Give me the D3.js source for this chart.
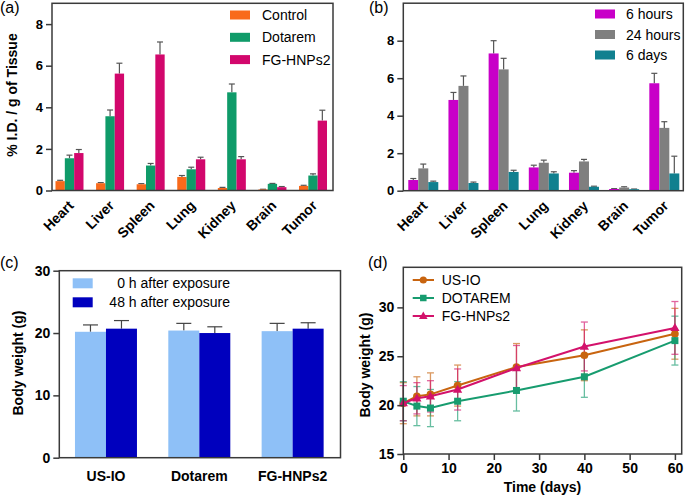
<!DOCTYPE html>
<html>
<head>
<meta charset="utf-8">
<script src="https://cdn.jsdelivr.net/npm/d3@7"></script>
<style>
  body { margin: 0; background: #fff; }
  text { font-family: Arial, "Liberation Sans", sans-serif; fill: #000; }
</style>
</head>
<body>
<svg id="fig" width="685" height="503"></svg>
<script>
// ---- data ----
var organs = ["Heart", "Liver", "Spleen", "Lung", "Kidney", "Brain", "Tumor"];

// (a) biodistribution per agent
var seriesA = ["Control", "Dotarem", "FG-HNPs2"];
var controlA = [0.45, 0.35, 0.30, 0.65, 0.12, 0.05, 0.22];
var controlErrA = [0.04, 0.03, 0.03, 0.07, 0.03, 0.01, 0.03];
var dotaremA = [1.55, 3.57, 1.20, 1.02, 4.72, 0.32, 0.72];
var dotaremErrA = [0.15, 0.30, 0.10, 0.10, 0.40, 0.02, 0.08];
var fgA = [1.80, 5.62, 6.54, 1.50, 1.50, 0.16, 3.36];
var fgErrA = [0.17, 0.50, 0.60, 0.10, 0.13, 0.03, 0.50];
var ticksA = [0, 2, 4, 6, 8];

// (b) FG-HNPs2 over time
var seriesB = ["6 hours", "24 hours", "6 days"];
var h6B = [0.57, 4.84, 7.32, 1.24, 0.96, 0.09, 5.73];
var h6ErrB = [0.08, 0.40, 0.68, 0.12, 0.11, 0.02, 0.53];
var h24B = [1.19, 5.59, 6.47, 1.49, 1.56, 0.17, 3.35];
var h24ErrB = [0.23, 0.53, 0.59, 0.14, 0.11, 0.04, 0.33];
var d6B = [0.46, 0.41, 1.00, 0.92, 0.21, 0.08, 0.92];
var d6ErrB = [0.05, 0.05, 0.09, 0.09, 0.03, 0.01, 0.92];
var ticksB = [0, 2, 4, 6, 8];

// (c) body weight before / after exposure
var agentsC = ["US-IO", "Dotarem", "FG-HNPs2"];
var seriesC = ["0 h after exposure", "48 h after exposure"];
var h0C = [20.2, 20.4, 20.3];
var h0ErrC = [1.1, 1.15, 1.25];
var h48C = [20.7, 20.0, 20.7];
var h48ErrC = [1.3, 1.0, 0.95];
var ticksC = [0, 10, 20, 30];

// (d) body weight over time
var daysD = [0, 3, 6, 12, 25, 40, 60];
var seriesD = ["US-IO", "DOTAREM", "FG-HNPs2"];
var usioD = [20.2, 20.9, 21.1, 22.0, 23.9, 25.1, 27.3];
var usioErrD = [2.1, 2.0, 2.2, 2.1, 2.4, 2.6, 2.6];
var dotaremD = [20.4, 19.9, 19.7, 20.4, 21.5, 22.9, 26.6];
var dotaremErrD = [2.0, 2.0, 1.9, 2.0, 2.1, 2.1, 2.5];
var fgD = [20.2, 20.7, 20.9, 21.6, 23.8, 26.0, 27.9];
var fgErrD = [1.8, 1.6, 1.6, 2.1, 2.3, 2.5, 2.7];
var xTicksD = [0, 10, 20, 30, 40, 50, 60];
var yTicksD = [15, 20, 25, 30];

// ---- styles ----
var FRAME = "#3a3a3a";
var ERR = "#555";

var svg = d3.select("#fig");

function frame(g, l, t, r, b) {
  g.append("rect").attr("x", l).attr("y", t).attr("width", r - l).attr("height", b - t)
    .attr("fill", "none").attr("stroke", FRAME).attr("stroke-width", 1.5);
}

function yAxis(g, y, left, ticks, fs) {
  var ax = g.append("g").attr("transform", "translate(" + left + ",0)")
    .call(d3.axisLeft(y).tickValues(ticks).tickSize(6).tickPadding(3));
  ax.select(".domain").remove();
  ax.selectAll("line").attr("stroke", FRAME).attr("stroke-width", 1.5);
  ax.selectAll("text").attr("font-size", fs).attr("font-weight", "bold")
    .attr("font-family", "Arial, 'Liberation Sans', sans-serif").attr("fill", "#000");
}

function panelLabel(txt, x, y) {
  svg.append("text").attr("x", x).attr("y", y).attr("font-size", 16).text(txt);
}

function yTitle(txt, x, y) {
  svg.append("text").attr("transform", "translate(" + x + "," + y + ") rotate(-90)")
    .attr("text-anchor", "middle").attr("font-size", 14).attr("font-weight", "bold").text(txt);
}

// grouped bars with upward error bars
function barPanel(o) {
  var g = svg.append("g");
  var x = d3.scaleBand().domain(o.cats).range(o.xRange);
  var xs = d3.scaleBand().domain(o.series).range([-o.groupW / 2, o.groupW / 2]);
  var y = d3.scaleLinear().domain(o.yDomain).range([o.bottom, o.top]);

  o.values.forEach(function(vals, si) {
    var rows = vals.map(function(v, i) {
      return { cat: o.cats[i], v: v, e: o.errs[si][i] };
    });
    var cx = function(d) { return x(d.cat) + x.bandwidth() / 2 + xs(o.series[si]) + xs.bandwidth() / 2; };
    var eg = g.append("g").attr("stroke", o.errColor).attr("stroke-width", 1.2);
    eg.selectAll("line.v").data(rows).enter().append("line")
      .attr("x1", cx).attr("x2", cx)
      .attr("y1", function(d) { return y(d.v); })
      .attr("y2", function(d) { return y(d.v + d.e); });
    eg.selectAll("line.c").data(rows).enter().append("line")
      .attr("x1", function(d) { return cx(d) - o.capW / 2; })
      .attr("x2", function(d) { return cx(d) + o.capW / 2; })
      .attr("y1", function(d) { return y(d.v + d.e); })
      .attr("y2", function(d) { return y(d.v + d.e); });
    g.selectAll(null).data(rows).enter().append("rect")
      .attr("x", function(d) { return cx(d) - xs.bandwidth() / 2; })
      .attr("width", xs.bandwidth())
      .attr("y", function(d) { return y(d.v); })
      .attr("height", function(d) { return y(o.yDomain[0]) - y(d.v); })
      .attr("fill", o.colors[si]);
  });

  frame(g, o.left, o.top, o.right, o.bottom);
  yAxis(g, y, o.left, o.ticks, o.tickFs);

  // category labels
  if (o.rotate) {
    g.selectAll(null).data(o.cats).enter().append("text")
      .attr("transform", function(d) {
        return "translate(" + (x(d) + x.bandwidth() / 2 + 5) + "," + (o.bottom + 16) + ") rotate(-45)";
      })
      .attr("text-anchor", "end").attr("font-size", 14).attr("font-weight", "bold")
      .text(function(d) { return d; });
  } else {
    g.selectAll(null).data(o.cats).enter().append("text")
      .attr("x", function(d) { return x(d) + x.bandwidth() / 2; })
      .attr("y", o.bottom + 23)
      .attr("text-anchor", "middle").attr("font-size", 14).attr("font-weight", "bold")
      .text(function(d) { return d; });
  }
  return g;
}

// ---- (a) ----
var colorsA = ["#F96A1B", "#0F9B69", "#D2076C"];
barPanel({
  cats: organs, series: seriesA, values: [controlA, dotaremA, fgA], errs: [controlErrA, dotaremErrA, fgErrA],
  colors: colorsA, xRange: [49.2, 333.3], groupW: 28, capW: 6, errColor: ERR,
  yDomain: [0, 9], left: 52, right: 333, top: 3.3, bottom: 190.5, ticks: ticksA, tickFs: 13, rotate: true
});
panelLabel("(a)", 0, 13);
yTitle("% I.D. / g of Tissue", 17, 95);
var legA = svg.append("g");
seriesA.forEach(function(s, i) {
  var cy = 15 + i * 22.3;
  legA.append("rect").attr("x", 230).attr("y", cy - 4.5).attr("width", 20).attr("height", 9).attr("fill", colorsA[i]);
  legA.append("text").attr("x", 262).attr("y", cy + 5).attr("font-size", 14).text(s);
});

// ---- (b) ----
var colorsB = ["#C800C8", "#7F7F7F", "#10808F"];
barPanel({
  cats: organs, series: seriesB, values: [h6B, h24B, d6B], errs: [h6ErrB, h24ErrB, d6ErrB],
  colors: colorsB, xRange: [403.2, 684.4], groupW: 30, capW: 6, errColor: ERR,
  yDomain: [0, 10], left: 403.3, right: 683.3, top: 3.2, bottom: 190.7, ticks: ticksB, tickFs: 13, rotate: true
});
panelLabel("(b)", 369, 13);
var legB = svg.append("g");
seriesB.forEach(function(s, i) {
  var cy = 14 + i * 20.5;
  legB.append("rect").attr("x", 595).attr("y", cy - 4.5).attr("width", 20).attr("height", 9).attr("fill", colorsB[i]);
  legB.append("text").attr("x", 626).attr("y", cy + 5).attr("font-size", 14).text(s);
});

// ---- (c) ----
var colorsC = ["#8EC0F7", "#0000BE"];
barPanel({
  cats: agentsC, series: seriesC, values: [h0C, h48C], errs: [h0ErrC, h48ErrC],
  colors: colorsC, xRange: [59.3, 339.3], groupW: 62, capW: 15, errColor: "#444",
  yDomain: [0, 30], left: 59.3, right: 340.5, top: 270.7, bottom: 457.7, ticks: ticksC, tickFs: 14, rotate: false
});
panelLabel("(c)", 0, 268);
yTitle("Body weight (g)", 23, 363);
var legC = svg.append("g");
seriesC.forEach(function(s, i) {
  var cy = 283.3 + i * 19;
  legC.append("rect").attr("x", 72.7).attr("y", cy - 5).attr("width", 20).attr("height", 10).attr("fill", colorsC[i]);
  legC.append("text").attr("x", 230).attr("y", cy + 5).attr("text-anchor", "end").attr("font-size", 14).text(s);
});

// ---- (d) ----
var colorsD = ["#C8640F", "#179C6F", "#D3126B"];
var dataD = [usioD, dotaremD, fgD];
var errD = [usioErrD, dotaremErrD, fgErrD];
var dl = 403.3, dr = 681.7, dt = 267.3, db = 454;
var xD = d3.scaleLinear().domain([0, 61.5]).range([dl, dr]);
var yD = d3.scaleLinear().domain([15, 34.1]).range([db, dt]);
var gD = svg.append("g");

function marker(sel, k, cx, cy, s) {
  if (k === 0) {
    sel.append("circle").attr("cx", cx).attr("cy", cy).attr("r", s * 0.55);
  } else if (k === 1) {
    sel.append("rect").attr("x", cx - s / 2).attr("y", cy - s / 2).attr("width", s).attr("height", s);
  } else {
    sel.append("path").attr("d", d3.symbol(d3.symbolTriangle, s * s * 0.75)())
      .attr("transform", "translate(" + cx + "," + (cy + 0.5) + ")");
  }
}

dataD.forEach(function(vals, si) {
  var rows = vals.map(function(v, i) { return { t: daysD[i], v: v, e: errD[si][i] }; });
  var eg = gD.append("g").attr("stroke", colorsD[si]).attr("stroke-width", 1.3).attr("opacity", 0.65);
  rows.forEach(function(d) {
    var cx = xD(d.t);
    eg.append("line").attr("x1", cx).attr("x2", cx).attr("y1", yD(d.v - d.e)).attr("y2", yD(d.v + d.e));
    eg.append("line").attr("x1", cx - 3.5).attr("x2", cx + 3.5).attr("y1", yD(d.v - d.e)).attr("y2", yD(d.v - d.e));
    eg.append("line").attr("x1", cx - 3.5).attr("x2", cx + 3.5).attr("y1", yD(d.v + d.e)).attr("y2", yD(d.v + d.e));
  });
});
dataD.forEach(function(vals, si) {
  var rows = vals.map(function(v, i) { return { t: daysD[i], v: v }; });
  gD.append("path").datum(rows)
    .attr("d", d3.line().x(function(d) { return xD(d.t); }).y(function(d) { return yD(d.v); }))
    .attr("fill", "none").attr("stroke", colorsD[si]).attr("stroke-width", 2);
  var mg = gD.append("g").attr("fill", colorsD[si]);
  rows.forEach(function(d) { marker(mg, si, xD(d.t), yD(d.v), 7); });
});

frame(gD, dl, dt, dr, db);
yAxis(gD, yD, dl, yTicksD, 14);
var xa = gD.append("g").attr("transform", "translate(0," + db + ")")
  .call(d3.axisBottom(xD).tickValues(xTicksD).tickSize(6).tickPadding(3));
xa.select(".domain").remove();
xa.selectAll("line").attr("stroke", FRAME).attr("stroke-width", 1.5);
xa.selectAll("text").attr("font-size", 14).attr("font-weight", "bold")
  .attr("font-family", "Arial, 'Liberation Sans', sans-serif").attr("fill", "#000");
svg.append("text").attr("x", (dl + dr) / 2).attr("y", 492).attr("text-anchor", "middle")
  .attr("font-size", 14).attr("font-weight", "bold").text("Time (days)");
panelLabel("(d)", 368, 268);
yTitle("Body weight (g)", 370, 365);

var legD = svg.append("g");
seriesD.forEach(function(s, i) {
  var cy = 280 + i * 18;
  legD.append("line").attr("x1", 412.7).attr("x2", 434).attr("y1", cy).attr("y2", cy)
    .attr("stroke", colorsD[i]).attr("stroke-width", 2);
  marker(legD.append("g").attr("fill", colorsD[i]), i, 423.3, cy, 6.5);
  legD.append("text").attr("x", 441.7).attr("y", cy + 5).attr("font-size", 14).text(s);
});
</script>
</body>
</html>
